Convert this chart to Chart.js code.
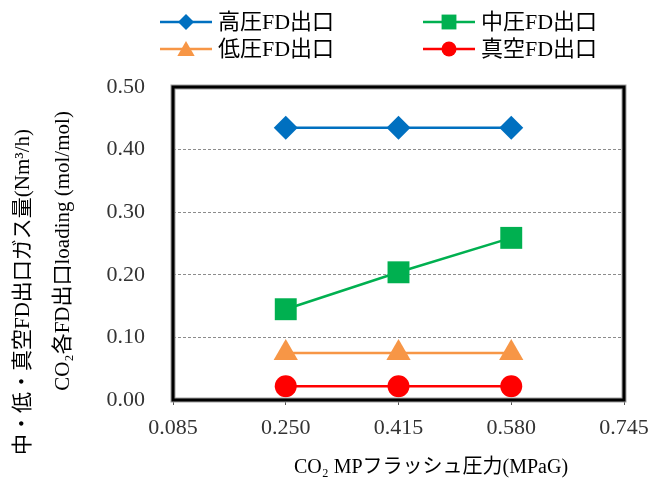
<!DOCTYPE html>
<html>
<head>
<meta charset="utf-8">
<script src="https://cdn.jsdelivr.net/npm/chart.js@4"></script>
<style>
html,body{margin:0;padding:0;background:#fff;}
#wrap{width:659px;height:488px;}
</style>
</head>
<body>
<div id="wrap"><canvas id="c" width="659" height="488"></canvas></div>
<script>
// ---- data ----
const pressures = [0.250, 0.415, 0.580];
const seriesNames = ['高圧FD出口', '中圧FD出口', '低圧FD出口', '真空FD出口'];
const highValues = [0.435, 0.435, 0.435];
const midValues = [0.145, 0.204, 0.259];
const lowValues = [0.075, 0.075, 0.075];
const vacValues = [0.022, 0.022, 0.022];
const xTicks = [0.085, 0.250, 0.415, 0.580, 0.745];
const yTicks = [0.00, 0.10, 0.20, 0.30, 0.40, 0.50];
const xTitle = 'CO₂ MPフラッシュ圧力(MPaG)';
const yTitleLines = ['中・低・真空FD出口ガス量(Nm³/h)', 'CO₂各FD出口loading (mol/mol)'];

const FONT = '"Liberation Serif", "Noto Sans CJK JP", serif';

function pts(vals){ return pressures.map((x,i)=>({x:x, y:vals[i]})); }

const styles = [
  {color:'#0070C0', pointStyle:'rectRot', r:12, lr:8},
  {color:'#00B050', pointStyle:'rect', r:15.5, lr:10.5},
  {color:'#F79646', pointStyle:'triangle', r:14, lr:10},
  {color:'#FF0000', pointStyle:'circle', r:11, lr:7.5}
];
const allVals = [highValues, midValues, lowValues, vacValues];

const datasets = allVals.map((v,i)=>({
  label: seriesNames[i],
  data: pts(v),
  borderColor: styles[i].color,
  backgroundColor: styles[i].color,
  pointBackgroundColor: styles[i].color,
  pointBorderColor: styles[i].color,
  pointBorderWidth: 0,
  pointStyle: styles[i].pointStyle,
  pointRadius: styles[i].r,
  pointHoverRadius: styles[i].r,
  borderWidth: 2.5,
  fill: false,
  tension: 0,
  clip: false,
  legendR: styles[i].lr
}));

const framePlugin = {
  id: 'frame',
  afterDatasetsDraw(chart){
    const a = chart.chartArea, ctx = chart.ctx;
    ctx.save();
    ctx.strokeStyle = '#a0a0a0';
    ctx.lineWidth = 5;
    ctx.strokeRect(a.left, a.top, a.right - a.left, a.bottom - a.top);
    ctx.strokeStyle = '#000';
    ctx.lineWidth = 3;
    ctx.strokeRect(a.left, a.top, a.right - a.left, a.bottom - a.top);
    ctx.restore();
  },
  afterDraw(chart){
    const ctx = chart.ctx;
    ctx.save();
    // legend (2 x 2 grid)
    const cols = [160, 423];
    const rows = [22, 49];
    ctx.font = '22px ' + FONT;
    ctx.textBaseline = 'middle';
    ctx.textAlign = 'left';
    chart.data.datasets.forEach((ds, i) => {
      const x0 = cols[i % 2], y = rows[Math.floor(i / 2)];
      ctx.strokeStyle = ds.borderColor;
      ctx.lineWidth = 2.5;
      ctx.beginPath(); ctx.moveTo(x0, y); ctx.lineTo(x0 + 52, y); ctx.stroke();
      ctx.fillStyle = ds.backgroundColor;
      Chart.helpers.drawPoint(ctx, {pointStyle: ds.pointStyle, radius: ds.legendR, borderWidth: 0}, x0 + 26, y + (ds.pointStyle === 'triangle' ? 2 : 0));
      ctx.fillStyle = '#000';
      ctx.fillText(ds.label, x0 + 58, y + 1);
    });
    // axis titles
    ctx.fillStyle = '#000';
    ctx.font = '20px ' + FONT;
    ctx.textAlign = 'center';
    ctx.textBaseline = 'middle';
    ctx.fillText(xTitle, 431, 468);
    ctx.font = '21px ' + FONT;
    const yPos = [[23, 292], [63, 251]];
    yTitleLines.forEach((t, i) => {
      ctx.save();
      ctx.translate(yPos[i][0], yPos[i][1]);
      ctx.rotate(-Math.PI / 2);
      ctx.fillText(t, 0, 0);
      ctx.restore();
    });
    ctx.restore();
  }
};

new Chart(document.getElementById('c'), {
  type: 'line',
  data: { datasets },
  options: {
    responsive: false,
    animation: false,
    devicePixelRatio: 1,
    layout: { padding: { top: 87, right: 35, left: 0, bottom: 0 } },
    plugins: { legend: { display: false }, tooltip: { enabled: false }, title: { display: false } },
    scales: {
      x: {
        type: 'linear',
        min: xTicks[0], max: xTicks[xTicks.length - 1],
        afterBuildTicks: s => { s.ticks = xTicks.map(v => ({value: v})); },
        afterFit: s => { s.height = 88; },
        grid: { display: true, drawOnChartArea: false, drawTicks: true, tickLength: 5, color: '#555' },
        border: { display: false },
        ticks: { padding: 10, color: '#333', font: { family: FONT, size: 22 }, callback: v => Number(v).toFixed(3), maxRotation: 0, autoSkip: false }
      },
      y: {
        type: 'linear',
        min: yTicks[0], max: yTicks[yTicks.length - 1],
        afterBuildTicks: s => { s.ticks = yTicks.map(v => ({value: v})); },
        afterFit: s => { s.width = 173; },
        grid: { display: true, drawTicks: false, color: '#8c8c8c', lineWidth: 1 },
        border: { display: false, dash: [3, 2] },
        ticks: { padding: 28, color: '#333', font: { family: FONT, size: 22 }, callback: v => Number(v).toFixed(2) }
      }
    }
  },
  plugins: [framePlugin]
});
</script>
</body>
</html>
